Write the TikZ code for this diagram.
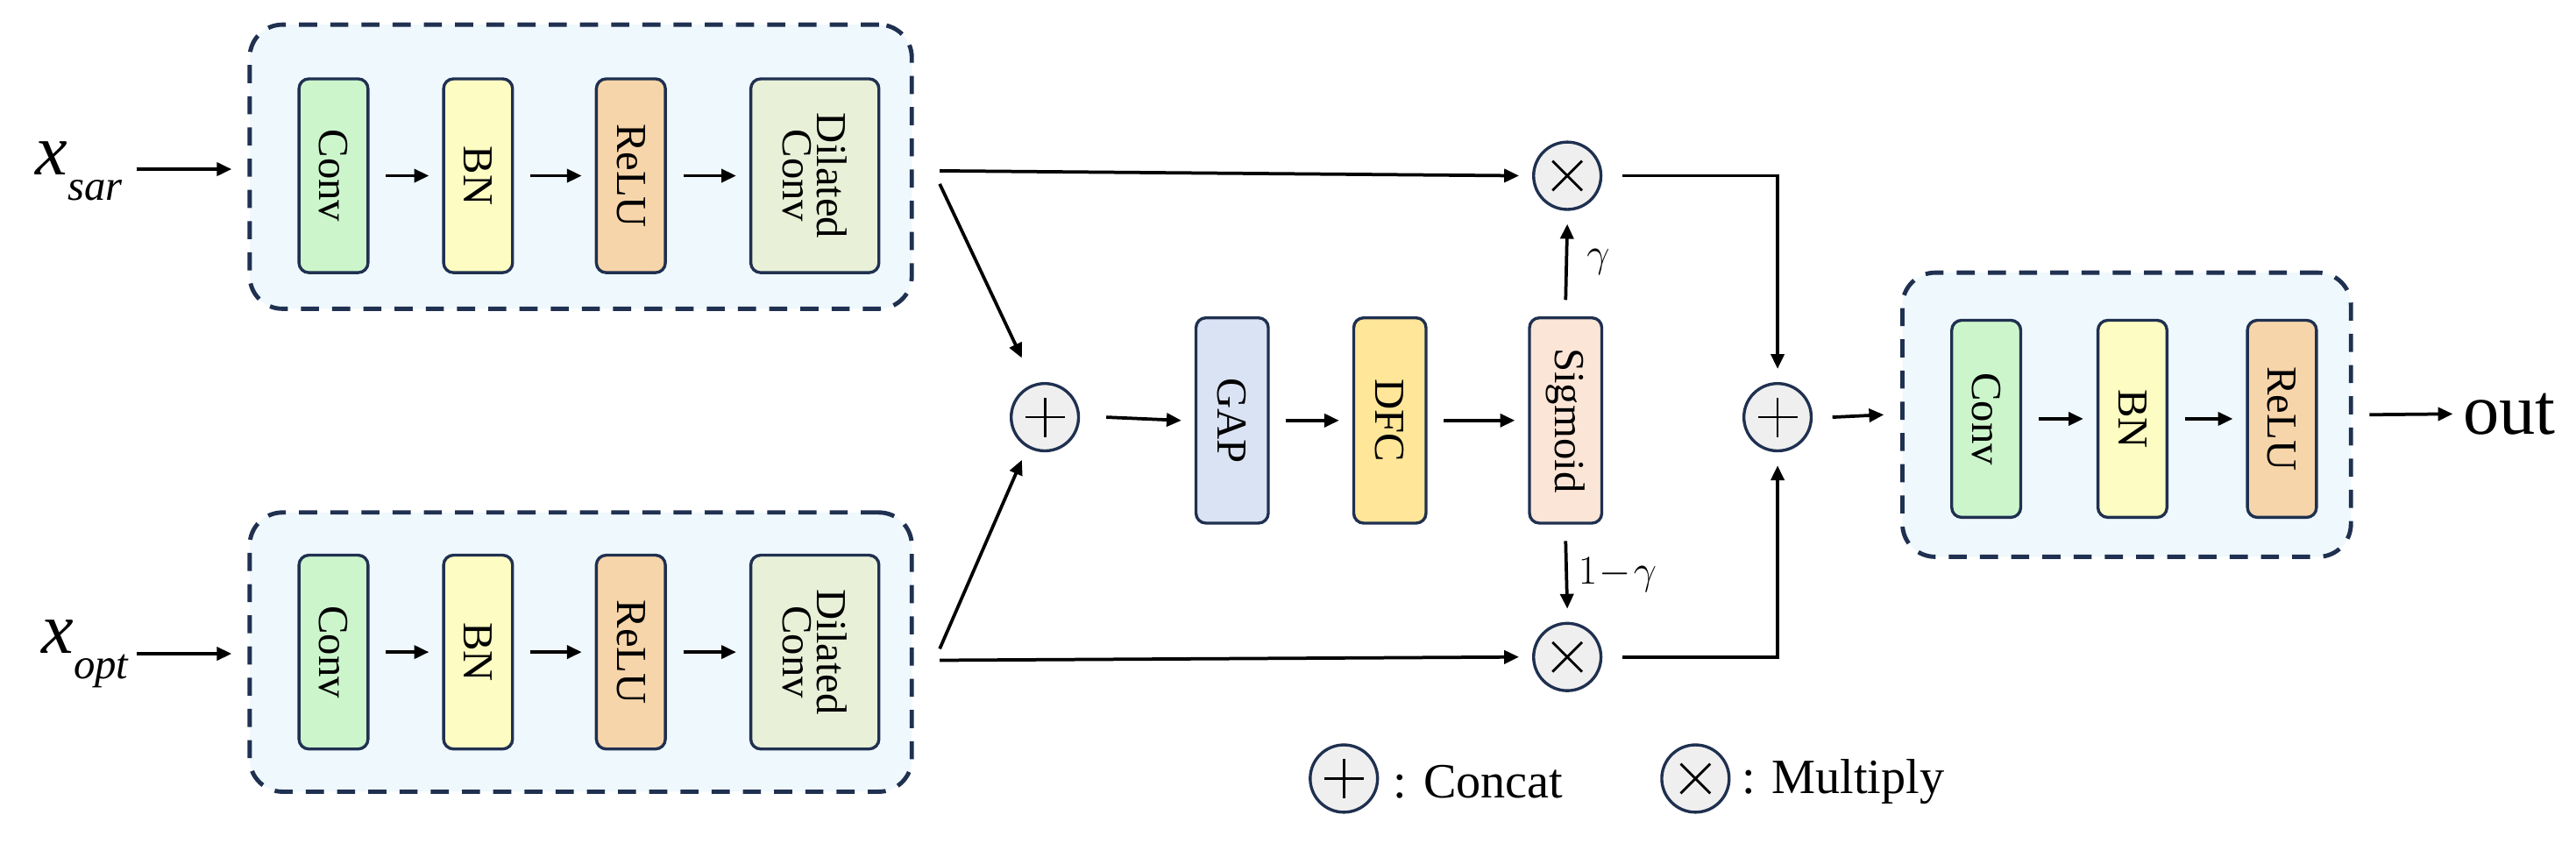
\documentclass[tikz,border=0pt]{standalone}
\usepackage{fontspec}
\setmainfont{Liberation Serif}
\usetikzlibrary{arrows.meta}
\definecolor{nav}{HTML}{1F3050}
\definecolor{bgb}{HTML}{EFF8FC}
\definecolor{cconv}{HTML}{CCF5CC}
\definecolor{cbn}{HTML}{FDFCC2}
\definecolor{crelu}{HTML}{F7D5AA}
\definecolor{cdil}{HTML}{E8F0D8}
\definecolor{cgap}{HTML}{DAE3F3}
\definecolor{cdfc}{HTML}{FFE699}
\definecolor{csig}{HTML}{FBE5D6}
\definecolor{ccir}{HTML}{EFEFEF}
\begin{document}
\begin{tikzpicture}[x=1pt,y=-1pt,
 grp/.style={draw=nav,line width=2.6pt,dash pattern=on 11pt off 8pt,fill=bgb,rounded corners=20pt},
 blk/.style={draw=nav,line width=1.8pt,rounded corners=6pt,minimum width=42pt,minimum height=118pt,inner sep=0pt,font=\fontsize{26}{25}\selectfont},
 cir/.style={circle,draw=nav,line width=1.8pt,fill=ccir,minimum size=41pt,inner sep=0pt},
 ar/.style={-{Triangle[length=9pt,width=8pt]},line width=2pt}]
\useasboundingbox (0,0) rectangle (1568,513);
% groups
\node[grp,minimum width=403pt,minimum height=173pt] (g1) at (353.5,101.5) {};
\node[grp,minimum width=403pt,minimum height=170pt] (g2) at (353.5,397) {};
\node[grp,minimum width=273pt,minimum height=173pt] (g3) at (1294.5,252.5) {};
% top row
\node[blk,fill=cconv] (c1) at (203,107) {\rotatebox{-90}{Conv}};
\node[blk,fill=cbn] (b1) at (291,107) {\rotatebox{-90}{BN}};
\node[blk,fill=crelu] (r1) at (384,107) {\rotatebox{-90}{ReLU}};
\node[blk,fill=cdil,minimum width=78pt] (d1) at (496,107) {\rotatebox{-90}{\shortstack{Dilated\\Conv}}};
% bottom row
\node[blk,fill=cconv] (c2) at (203,397) {\rotatebox{-90}{Conv}};
\node[blk,fill=cbn] (b2) at (291,397) {\rotatebox{-90}{BN}};
\node[blk,fill=crelu] (r2) at (384,397) {\rotatebox{-90}{ReLU}};
\node[blk,fill=cdil,minimum width=78pt] (d2) at (496,397) {\rotatebox{-90}{\shortstack{Dilated\\Conv}}};
% middle
\node[blk,fill=cgap,minimum width=44pt,minimum height=125pt] (gap) at (750,256) {\rotatebox{-90}{GAP}};
\node[blk,fill=cdfc,minimum width=44pt,minimum height=125pt] (dfc) at (846,256) {\rotatebox{-90}{DFC}};
\node[blk,fill=csig,minimum width=44pt,minimum height=125pt] (sig) at (953,256) {\rotatebox{-90}{Sigmoid}};
% right
\node[blk,fill=cconv,minimum height=120pt] (c3) at (1209,255) {\rotatebox{-90}{Conv}};
\node[blk,fill=cbn,minimum height=120pt] (b3) at (1298,255) {\rotatebox{-90}{BN}};
\node[blk,fill=crelu,minimum height=120pt] (r3) at (1389,255) {\rotatebox{-90}{ReLU}};
% circles
\node[cir] (p1) at (636,254) {};
\node[cir] (p2) at (1082,254) {};
\node[cir] (m1) at (954,107) {};
\node[cir] (m2) at (954,400) {};
\node[cir] (lp) at (818,474) {};
\node[cir] (lm) at (1032,474) {};
\foreach \n in {p1,p2,lp}{\draw[line width=1.5pt] ([xshift=-12pt]\n.center)--([xshift=12pt]\n.center) ([yshift=-12pt]\n.center)--([yshift=12pt]\n.center);}
\foreach \n in {m1,m2,lm}{\draw[line width=1.5pt] ([shift={(-9pt,-9pt)}]\n.center)--([shift={(9pt,9pt)}]\n.center) ([shift={(-9pt,9pt)}]\n.center)--([shift={(9pt,-9pt)}]\n.center);}
% texts
\node (xs) at (48,104) {\fontsize{44}{44}\selectfont\textit{x}\raisebox{-0.35em}{\fontsize{26}{26}\selectfont\textit{sar}}};
\node (xo) at (52,398) {\fontsize{44}{44}\selectfont\textit{x}\raisebox{-0.35em}{\fontsize{26}{26}\selectfont\textit{opt}}};
\node[anchor=west,inner sep=0pt] (out) at (1499,252) {\fontsize{44}{44}\selectfont out};
\node[anchor=west,inner sep=0pt] (lc) at (848,476) {\fontsize{30}{30}\selectfont : Concat};
\node[anchor=west,inner sep=0pt] (lmt) at (1060,476) {\fontsize{30}{30}\selectfont : Multiply};
% arrows
\coordinate (t1) at (572,104); \coordinate (t2) at (572,402);
\coordinate (t1d) at (572,112); \coordinate (t2d) at (572,395);
\coordinate (p1t) at (622,218); \coordinate (p1b) at (622,280);
\draw[ar] (83,103) -- (141,103);
\draw[ar] (83,398) -- (141,398);
\foreach \a/\b in {c1/b1,b1/r1,r1/d1,c2/b2,b2/r2,r2/d2,gap/dfc,dfc/sig,c3/b3,b3/r3}{\draw[ar] ([xshift=10pt]\a.east) -- ([xshift=-8pt]\b.west);}
\draw[ar] (t1) -- ([xshift=-8pt]m1.west);
\draw[ar] (t2) -- ([xshift=-8pt]m2.west);
\draw[ar] (t1d) -- (p1t);
\draw[ar] (t2d) -- (p1b);
\draw[ar] ([xshift=16pt]p1.east) -- ([xshift=-8pt]gap.west);
\draw[ar] ([yshift=10pt]sig.north) -- ([yshift=-8pt]m1.south) node[midway,right=8pt]{\fontsize{24}{24}\selectfont$\gamma$};
\draw[ar] ([yshift=-10pt]sig.south) -- ([yshift=8pt]m2.north) node[midway,right=3pt]{\fontsize{24}{24}\selectfont$1\!-\!\gamma$};
\draw[ar] ([xshift=12pt]m1.east) -| ([yshift=8pt]p2.north);
\draw[ar] ([xshift=12pt]m2.east) -| ([yshift=-8pt]p2.south);
\draw[ar] ([xshift=12pt]p2.east) -- ([xshift=-10pt]g3.west);
\draw[ar] ([xshift=10pt]g3.east) -- ([xshift=-6pt]out.west);
\end{tikzpicture}
\end{document}
